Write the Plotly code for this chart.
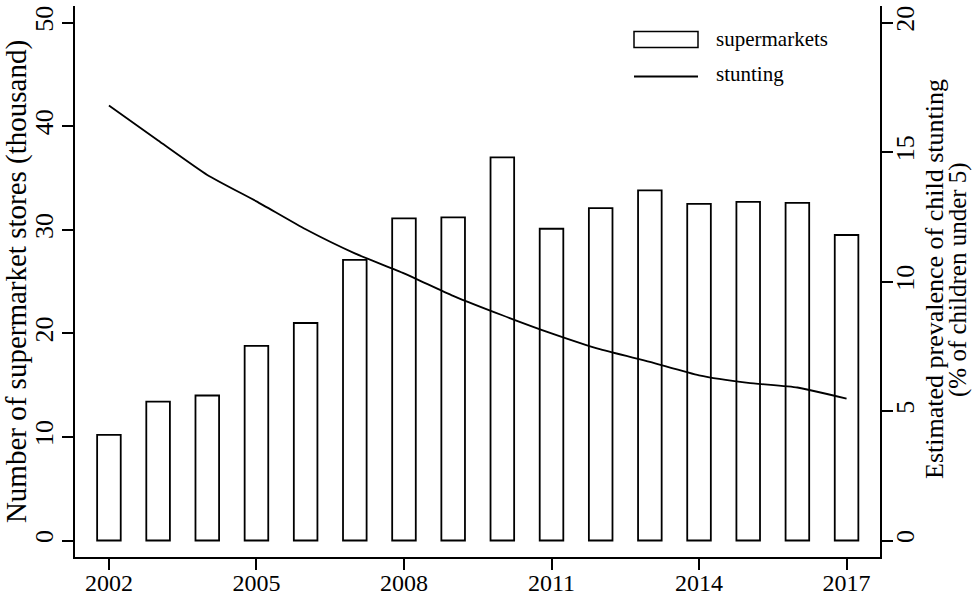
import plotly.graph_objects as go

years = list(range(2002, 2018))
supermarkets = [10.2, 13.4, 14.0, 18.8, 21.0, 27.1, 31.1, 31.2, 37.0, 30.1, 32.1, 33.8, 32.5, 32.7, 32.6, 29.5]
stunting = [16.8, 15.45, 14.12, 13.1, 12.02, 11.09, 10.32, 9.45, 8.70, 8.0, 7.38, 6.90, 6.38, 6.09, 5.91, 5.48]
x_ticks = [2002, 2005, 2008, 2011, 2014, 2017]
left_ticks = [0, 10, 20, 30, 40, 50]
right_ticks = [0, 5, 10, 15, 20]
grid_vals = [10, 20, 30, 40]
right_title = ["Estimated prevalence of child stunting", "(% of children under 5)"]

W, H = 973, 596
L, R, T, B = 75, 880, 6, 557
FONT = "Liberation Serif"

def px(xp):
    return (xp - L) / (R - L)

def py(yp):
    return (B - yp) / (B - T)

fig = go.Figure()
fig.add_trace(go.Bar(
    x=years, y=supermarkets, width=0.48, name="supermarkets",
    marker=dict(color="white", line=dict(color="black", width=1.8)),
    yaxis="y", showlegend=False,
))
fig.add_trace(go.Scatter(
    x=years, y=stunting, mode="lines", name="stunting",
    line=dict(color="black", width=1.8, shape="spline", smoothing=0.5),
    yaxis="y2", showlegend=False,
))

ax_common = dict(showline=True, linecolor="black", linewidth=1.5, ticks="outside",
                 ticklen=11, tickwidth=1.5, tickcolor="black", zeroline=False,
                 automargin=False)

fig.update_layout(
    width=W, height=H,
    margin=dict(l=L, r=W - R, t=T, b=H - B),
    paper_bgcolor="white", plot_bgcolor="white",
    bargap=0.5,
    font=dict(family=FONT, color="black"),
    xaxis=dict(range=[2001.31, 2017.68], tickvals=x_ticks, showgrid=False,
               ticklabelstandoff=-8, tickfont=dict(family=FONT, size=24, color="black"),
               **ax_common),
    yaxis=dict(range=[-1.593, 51.61], tickvals=left_ticks, showgrid=False, tickangle=-90,
               ticklabelstandoff=-1, tickfont=dict(family=FONT, size=26, color="black"),
               title=dict(text="Number of supermarket stores (thousand)",
                          font=dict(family=FONT, size=29, color="black"), standoff=2),
               **ax_common),
    yaxis2=dict(range=[-0.637, 20.645], tickvals=right_ticks, overlaying="y", side="right",
                showgrid=False, tickangle=-90, ticklabelstandoff=-10,
                tickfont=dict(family=FONT, size=26, color="black"),
                **ax_common),
    yaxis3=dict(range=[-1.593, 51.61], tickvals=grid_vals, overlaying="y", showgrid=True,
                gridcolor="#e6eef0", gridwidth=2, showticklabels=False, ticks="",
                showline=False, zeroline=False, automargin=False),
)

# right axis title, two lines
for txt, xp, fs in zip(right_title, [934, 958], [26, 25]):
    fig.add_annotation(text=txt, xref="paper", yref="paper", x=px(xp), y=py(279),
                       xanchor="center", yanchor="middle", textangle=-90, showarrow=False,
                       borderpad=0, font=dict(family=FONT, size=fs, color="black"))

# legend drawn as a key
fig.add_shape(type="rect", xref="paper", yref="paper",
              x0=px(634), x1=px(698), y0=py(47.5), y1=py(31.5),
              line=dict(color="black", width=1.5), fillcolor="white")
fig.add_shape(type="line", xref="paper", yref="paper",
              x0=px(634), x1=px(698), y0=py(76.5), y1=py(76.5),
              line=dict(color="black", width=1.8))
fig.add_annotation(text="supermarkets", xref="paper", yref="paper", x=px(714), y=py(39),
                   xanchor="left", yanchor="middle", showarrow=False,
                   font=dict(family=FONT, size=21, color="black"))
fig.add_annotation(text="stunting", xref="paper", yref="paper", x=px(714), y=py(74),
                   xanchor="left", yanchor="middle", showarrow=False,
                   font=dict(family=FONT, size=21, color="black"))

fig.write_html("out.html")
